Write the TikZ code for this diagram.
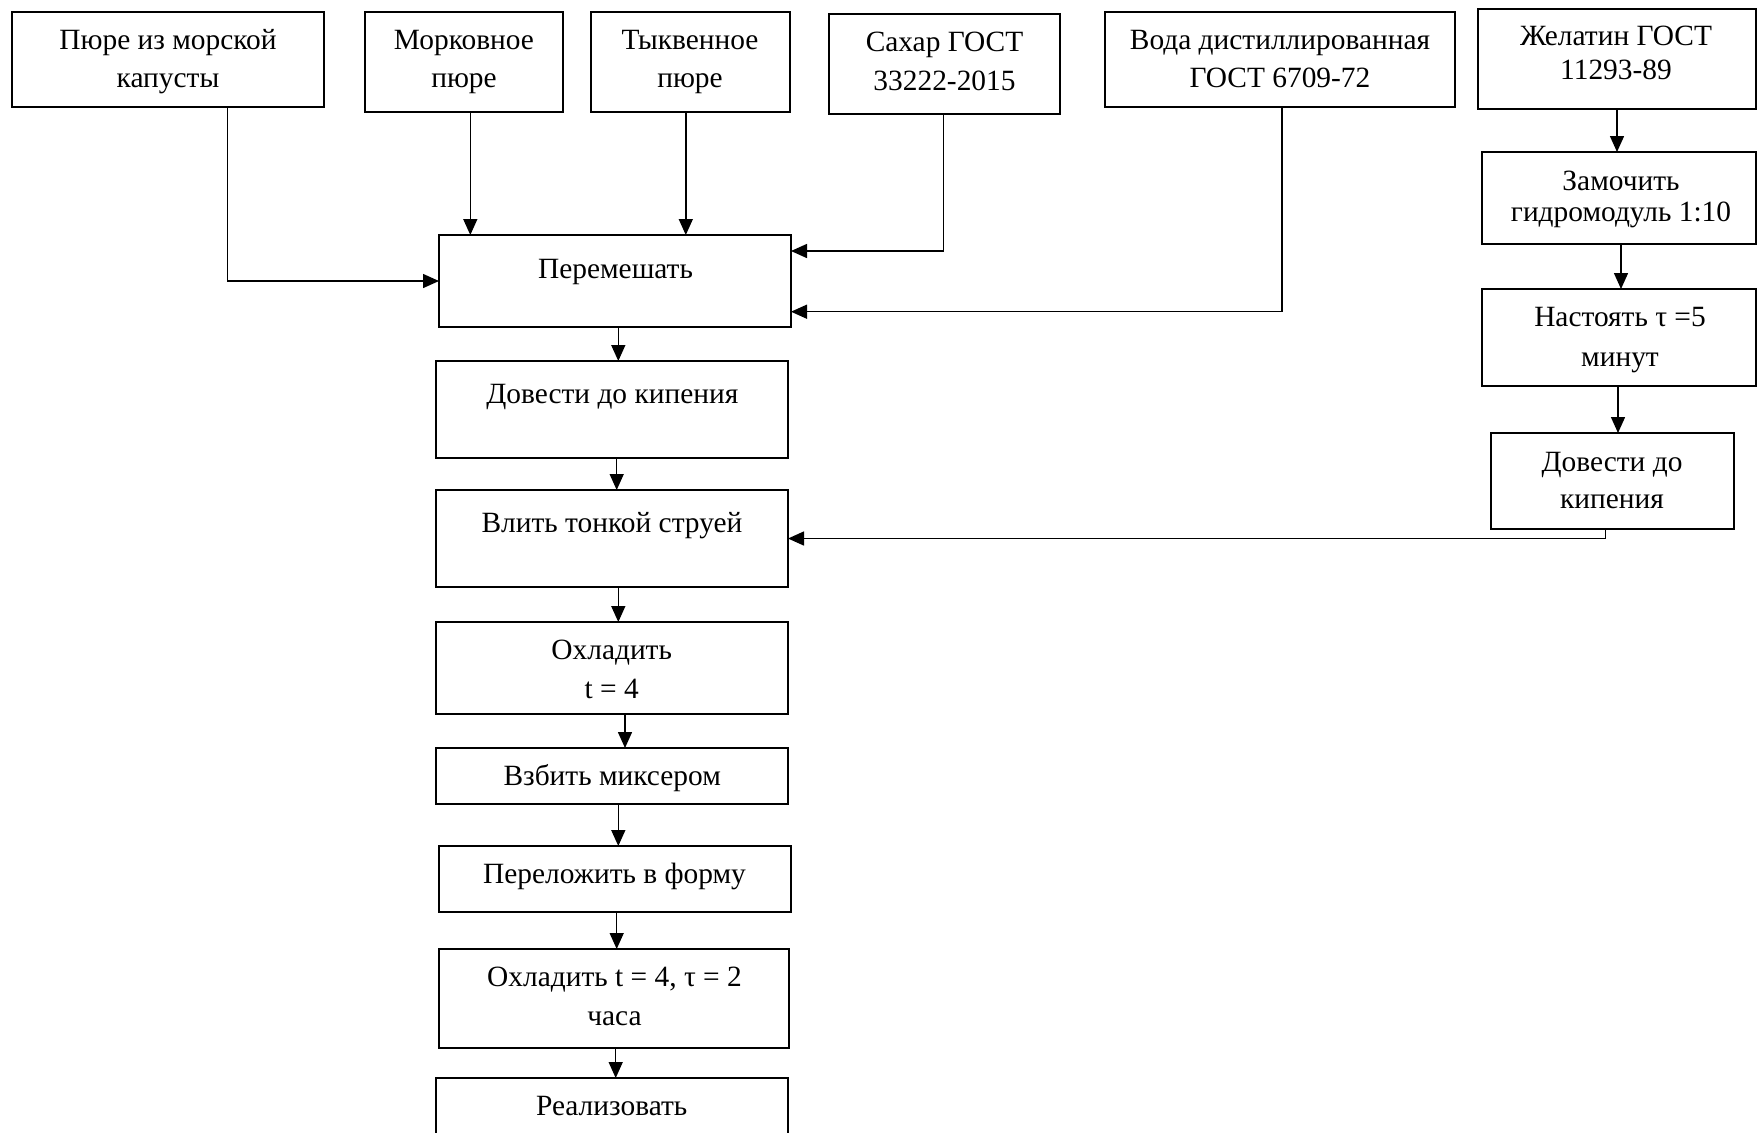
\documentclass[tikz,border=0pt]{standalone}
\usepackage{fontspec}
\setmainfont{Liberation Serif}
\usetikzlibrary{arrows.meta,fit}
\tikzset{
  box/.style={draw, line width=1.1pt, inner sep=0pt, outer sep=0pt, rectangle},
  lbl/.style={anchor=base, inner sep=0pt, font=\fontsize{14.7}{19}\selectfont},
  arr/.style={line width=0.75pt, -{Triangle[length=8pt,width=7pt]}},
}
\begin{document}
\begin{tikzpicture}[x=0.5pt,y=-0.5pt]
\useasboundingbox (0,0) rectangle (1757,1132);
% boxes
\node[box, fit={(12,12) (324,107)}] (b1) {};
\node[box, fit={(365,12) (563,112)}] (b2) {};
\node[box, fit={(591,12) (790,112)}] (b3) {};
\node[box, fit={(829,14) (1060,114)}] (b4) {};
\node[box, fit={(1105,12) (1455,107)}] (b5) {};
\node[box, fit={(1478,9) (1756,109)}] (b6) {};
\node[box, fit={(1482,152) (1756,244)}] (s1) {};
\node[box, fit={(1482,289) (1756,386)}] (s2) {};
\node[box, fit={(1491,433) (1734,529)}] (s3) {};
\node[box, fit={(439,235) (791,327)}] (mix) {};
\node[box, fit={(436,361) (788,458)}] (boil) {};
\node[box, fit={(436,490) (788,587)}] (pour) {};
\node[box, fit={(436,622) (788,714)}] (cool) {};
\node[box, fit={(436,748) (788,804)}] (whip) {};
\node[box, fit={(439,846) (791,912)}] (form) {};
\node[box, fit={(439,949) (789,1048)}] (cool2) {};
\node[box, fit={(436,1078) (788,1160)}] (sell) {};
% texts
\node[lbl] (t1a) at (168,49) {Пюре из морской};
\node[lbl] (t1b) at (168,87) {капусты};
\node[lbl] (t2a) at (464,49) {Морковное};
\node[lbl] (t2b) at (464,87) {пюре};
\node[lbl] (t3a) at (690,49) {Тыквенное};
\node[lbl] (t3b) at (690,87) {пюре};
\node[lbl] (t4a) at (944.5,51.7) {Сахар ГОСТ};
\node[lbl] (t4b) at (944.5,90) {33222-2015};
\node[lbl] (t5a) at (1280,49.3) {Вода дистиллированная};
\node[lbl] (t5b) at (1280,87.3) {ГОСТ 6709-72};
\node[lbl] (t6a) at (1616,45) {Желатин ГОСТ};
\node[lbl] (t6b) at (1616,79.3) {11293-89};
\node[lbl] (ts1a) at (1621,190) {Замочить};
\node[lbl] (ts1b) at (1621,221.7) {гидромодуль 1:10};
\node[lbl] (ts2a) at (1620,326.7) {Настоять τ =5};
\node[lbl] (ts2b) at (1620,366) {минут};
\node[lbl] (ts3a) at (1612,471.7) {Довести до};
\node[lbl] (ts3b) at (1612,508.3) {кипения};
\node[lbl] (tmix) at (615.5,278.3) {Перемешать};
\node[lbl] (tboil) at (612.3,403.3) {Довести до кипения};
\node[lbl] (tpour) at (612,532.3) {Влить тонкой струей};
\node[lbl] (tcoola) at (611.7,659.3) {Охладить};
\node[lbl] (tcoolb) at (611.7,698.3) {t = 4};
\node[lbl] (twhip) at (612.2,785) {Взбить миксером};
\node[lbl] (tform) at (614.5,883.3) {Переложить в форму};
\node[lbl] (tcool2a) at (614.5,986.7) {Охладить t = 4, τ = 2};
\node[lbl] (tcool2b) at (614.5,1025) {часа};
\node[lbl] (tsell) at (611.7,1115) {Реализовать};
% x positions of vertical connectors
\coordinate (x1) at (227.3,0);
\coordinate (x2) at (470.3,0);
\coordinate (x3) at (685.8,0);
\coordinate (x4) at (943.5,0);
\coordinate (x5) at (1282,0);
\coordinate (x6) at (1617,0);
\coordinate (x7) at (1621,0);
\coordinate (x8) at (1618,0);
\coordinate (x9) at (1605.7,0);
\coordinate (m1) at (618.3,0);
\coordinate (m2) at (616.7,0);
\coordinate (m3) at (618.3,0);
\coordinate (m4) at (625,0);
\coordinate (m5) at (618.3,0);
\coordinate (m6) at (616.7,0);
\coordinate (m7) at (615.7,0);
\coordinate (y4) at (0,251);
\coordinate (y5) at (0,311.7);
% connectors
\draw[arr] (b1.south -| x1) |- (mix.west);
\draw[arr] (b2.south -| x2) -- (mix.north -| x2);
\draw[arr] (b3.south -| x3) -- (mix.north -| x3);
\draw[arr] (b4.south -| x4) |- (mix.east |- y4);
\draw[arr] (b5.south -| x5) |- (mix.east |- y5);
\draw[arr] (b6.south -| x6) -- (s1.north -| x6);
\draw[arr] (s1.south -| x7) -- (s2.north -| x7);
\draw[arr] (s2.south -| x8) -- (s3.north -| x8);
\draw[arr] (s3.south -| x9) |- (pour.east);
\draw[arr] (mix.south -| m1) -- (boil.north -| m1);
\draw[arr] (boil.south -| m2) -- (pour.north -| m2);
\draw[arr] (pour.south -| m3) -- (cool.north -| m3);
\draw[arr] (cool.south -| m4) -- (whip.north -| m4);
\draw[arr] (whip.south -| m5) -- (form.north -| m5);
\draw[arr] (form.south -| m6) -- (cool2.north -| m6);
\draw[arr] (cool2.south -| m7) -- (sell.north -| m7);
\end{tikzpicture}
\end{document}
